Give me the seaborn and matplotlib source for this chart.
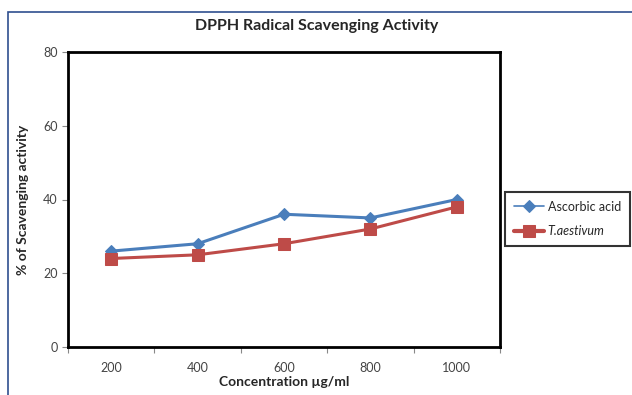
import matplotlib
matplotlib.use("Agg")
import matplotlib.pyplot as plt
import seaborn as sns
import pandas as pd
from matplotlib.patches import Rectangle
from matplotlib.ticker import FixedLocator, NullFormatter

concentrations = ["200", "400", "600", "800", "1000"]
ascorbic = [26, 28, 36, 35, 40]
t_aestivum = [24, 25, 28, 32, 38]

sns.set_style("white")
plt.rcParams['font.family'] = ['Lato', 'DejaVu Sans']

df = pd.DataFrame({
    "conc": concentrations * 2,
    "value": ascorbic + t_aestivum,
    "series": ["Ascorbic acid"] * 5 + ["T.aestivum"] * 5,
})

fig = plt.figure(figsize=(6.32, 3.95), dpi=100)
ax = fig.add_axes([68/632, 48/395, 432/632, 295/395])

blue = "#4a7ebb"
red = "#be4b48"
sns.lineplot(data=df[df.series == "Ascorbic acid"], x="conc", y="value", ax=ax,
             color=blue, marker="D", markersize=6, linewidth=2.2,
             markeredgecolor=blue, label="Ascorbic acid", sort=False)
sns.lineplot(data=df[df.series == "T.aestivum"], x="conc", y="value", ax=ax,
             color=red, marker="s", markersize=8, linewidth=2.2,
             markeredgecolor=red, label="T.aestivum", sort=False)

ax.set_xlim(-0.5, 4.5)
ax.set_ylim(0, 80)
ax.set_yticks([0, 20, 40, 60, 80])
ax.xaxis.set_major_locator(FixedLocator([-0.5, 0.5, 1.5, 2.5, 3.5, 4.5]))
ax.xaxis.set_major_formatter(NullFormatter())
ax.xaxis.set_minor_locator(FixedLocator([0, 1, 2, 3, 4]))
ax.set_xticklabels(concentrations, minor=True)
ax.tick_params(axis="x", which="major", bottom=True, length=4, width=0.8, color="#888888")
ax.tick_params(axis="x", which="minor", bottom=False, labelsize=9, labelcolor="#444444", pad=9)
ax.tick_params(axis="y", left=True, length=4, width=0.8, color="#888888", labelsize=9, labelcolor="#444444")

for s in ax.spines.values():
    s.set_visible(True)
    s.set_color("black")
    s.set_linewidth(2)

ax.set_xlabel("Concentration µg/ml", fontsize=10, fontweight="bold", labelpad=1)
ax.set_ylabel("% of Scavenging activity", fontsize=10, fontweight="bold", labelpad=10)
fig.text(317 / 632, (395 - 26) / 395, "DPPH Radical Scavenging Activity",
         ha="center", va="center", fontsize=11.5, fontweight="bold")

leg = ax.legend(loc="center left", bbox_to_anchor=(1.012, 0.434), frameon=True,
                fancybox=False, fontsize=9, handlelength=2.4, handletextpad=0.3,
                borderpad=0.7, borderaxespad=0, labelspacing=1.0)
leg.get_frame().set_edgecolor("black")
leg.get_frame().set_linewidth(1.5)
leg.get_texts()[1].set_style("italic")
leg.get_lines()[0].set_linewidth(1.2)
leg.get_lines()[1].set_linewidth(3)

fig.patches.append(Rectangle((8/632, -0.1), 1.0, (395 - 12)/395 + 0.1,
                             transform=fig.transFigure, fill=False,
                             edgecolor="#2f4f8f", linewidth=1.2, zorder=10))

fig.savefig("out.png", dpi=100)
